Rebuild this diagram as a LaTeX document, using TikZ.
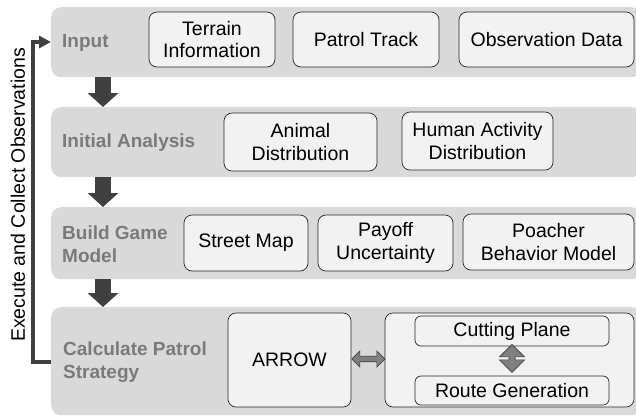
\documentclass[tikz,border=0pt]{standalone}
\usepackage{fontspec}
\setmainfont{Liberation Sans}
\usetikzlibrary{arrows.meta}
\definecolor{bandgray}{HTML}{D9D9D9}
\definecolor{boxfill}{HTML}{F2F2F2}
\definecolor{darkarrow}{HTML}{404040}
\definecolor{labelgray}{HTML}{7A7A7A}
\definecolor{midarrow}{HTML}{808080}
\begin{document}
\begin{tikzpicture}[x=1pt,y=-1pt,
  every node/.style={font=\fontsize{19.5}{22.5}\selectfont},
  band/.style={fill=bandgray, rounded corners=10pt, inner sep=0pt, anchor=north west},
  box/.style={draw=black!85, line width=0.7pt, fill=boxfill, rounded corners=8pt, inner sep=0pt, align=center},
  bandlabel/.style={anchor=west, align=left, text=labelgray, font=\fontsize{19}{22.5}\selectfont\bfseries, inner sep=0pt},
  bigarrow/.style={draw=darkarrow, line width=16pt, -{Triangle[length=14pt,width=30pt]}},
  fbline/.style={draw=darkarrow, line width=4pt, line join=miter, -{Triangle[length=12pt,width=12pt]}},
  dblarrow/.style={fill=midarrow, draw=darkarrow, line width=0.7pt, line join=miter}
]
\useasboundingbox (0,0) rectangle (636,416);
% bands
\node[band, minimum width=590pt, minimum height=70pt] (b1) at (51,7) {};
\node[band, minimum width=590pt, minimum height=70pt] (b2) at (51,107) {};
\node[band, minimum width=590pt, minimum height=72pt] (b3) at (51,207) {};
\node[band, minimum width=590pt, minimum height=108pt] (b4) at (51,307) {};
% band labels
\node[bandlabel] (l1) at (62,43) {Input};
\node[bandlabel] (l2) at (62,143) {Initial Analysis};
\node[bandlabel] (l3) at (62,244) {Build Game\\Model};
\node[bandlabel] (l4) at (63,362) {Calculate Patrol\\Strategy};
% row 1
\node[box, minimum width=126pt, minimum height=55pt] (terrain) at (212,39.5) {Terrain\\Information};
\node[box, minimum width=146pt, minimum height=55pt] (track) at (366,39.5) {Patrol Track};
\node[box, minimum width=175pt, minimum height=55pt] (obs) at (546.5,39.5) {Observation Data};
% row 2
\node[box, minimum width=153pt, minimum height=58pt] (animal) at (300.5,142) {Animal\\Distribution};
\node[box, minimum width=151pt, minimum height=58pt] (human) at (477.5,141) {Human Activity\\Distribution};
% row 3
\node[box, minimum width=124pt, minimum height=56pt] (street) at (246,243) {Street Map};
\node[box, minimum width=135pt, minimum height=56pt] (payoff) at (385.5,243) {Payoff\\Uncertainty};
\node[box, minimum width=171pt, minimum height=56pt] (poacher) at (548.5,242) {Poacher\\Behavior Model};
% row 4
\node[box, minimum width=123pt, minimum height=94pt] (arrow) at (289.5,360) {ARROW};
\node[box, minimum width=249pt, minimum height=94pt] (cont) at (509.5,360) {};
\node[box, rounded corners=6pt, minimum width=194pt, minimum height=30pt] (cut) at (512,331) {Cutting Plane};
\node[box, rounded corners=6pt, minimum width=194pt, minimum height=29pt] (route) at (512,390.5) {Route Generation};
% down arrows
\draw[bigarrow] ([xshift=52pt]b1.south west) -- ([xshift=52pt]b2.north west);
\draw[bigarrow] ([xshift=52pt]b2.south west) -- ([xshift=52pt]b3.north west);
\draw[bigarrow] ([xshift=52pt]b3.south west) -- ([xshift=52pt]b4.north west);
% feedback loop
\coordinate (fbstart) at (b4.west |- 0,362);
\coordinate (fbend) at (b1.west |- 0,42);
\draw[fbline] (fbstart) -- (33,362) -- (33,42) -- (fbend);
\node[rotate=90, inner sep=0pt] (fblabel) at (18,195) {Execute and Collect Observations};
% horizontal double arrow ARROW <-> container
\filldraw[dblarrow] ([xshift=0.5pt,yshift=1pt]arrow.east) -- ++(8,-8) -- ++(0,5.25) -- ++(17,0) -- ++(0,-5.25) -- ++(8,8)
  -- ++(-8,8) -- ++(0,-5.25) -- ++(-17,0) -- ++(0,5.25) -- cycle;
% vertical double arrow cutting <-> route
\filldraw[dblarrow] ([yshift=2pt]cut.south) -- ++(12.5,12.5) -- ++(-9.5,0) -- ++(0,3) -- ++(9.5,0) -- ++(-12.5,12.5)
  -- ++(-12.5,-12.5) -- ++(9.5,0) -- ++(0,-3) -- ++(-9.5,0) -- cycle;
\end{tikzpicture}
\end{document}
